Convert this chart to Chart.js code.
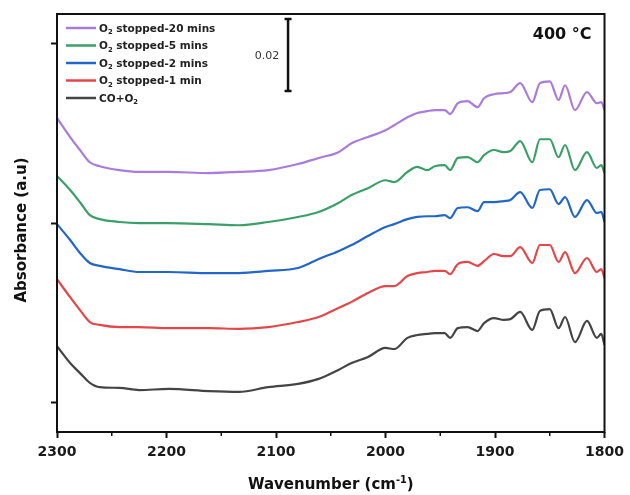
<!DOCTYPE html>
<html>
<head>
<meta charset="utf-8">
<title>DRIFTS 400 °C</title>
<script src="https://cdn.jsdelivr.net/npm/chart.js@4.4.1/dist/chart.umd.min.js"></script>
<style>
  html, body { margin: 0; padding: 0; background: #fff; }
</style>
</head>
<body>
<canvas id="irChart" width="630" height="495"></canvas>
<script>
// ---------------- DATA ----------------
// wavenumber (cm-1), values in milli-a.u. (offset spectra)

const wavenumbers = [2300, 2288, 2279, 2270, 2261, 2243, 2225, 2198, 2161, 2134, 2107, 2080, 2061, 2043,
  2031, 2016, 2000, 1992, 1980, 1971, 1962, 1955, 1946, 1941, 1934, 1925, 1916, 1910, 1901, 1892, 1886,
  1877, 1866, 1859, 1850, 1842, 1836, 1827, 1816, 1807, 1803, 1800];

const coO2 = [15.8, 11.1, 8.3, 5.6, 4.4, 4.2, 3.6, 3.9, 3.3, 3.1, 4.4, 5.3, 6.7, 9.2, 11.1, 12.8, 15.3,
  15.0, 18.1, 18.9, 19.2, 19.4, 19.4, 18.1, 20.8, 21.1, 20.0, 22.2, 23.6, 23.1, 23.3, 25.3, 20.3, 25.6,
  26.1, 20.8, 23.9, 16.9, 22.8, 18.1, 19.2, 16.1];

const stopped1 = [34.4, 29.4, 25.8, 22.5, 21.7, 21.1, 21.1, 20.8, 20.8, 20.6, 21.1, 22.5, 23.9, 26.4,
  28.1, 30.6, 32.5, 32.5, 35.3, 36.1, 36.4, 36.7, 36.7, 35.8, 38.6, 39.2, 38.1, 39.4, 41.4, 40.8, 40.8,
  43.3, 38.9, 43.9, 43.9, 39.2, 41.9, 36.1, 40.3, 36.4, 37.2, 34.7];

const stopped2 = [49.7, 45.3, 41.7, 38.9, 38.1, 37.2, 36.4, 36.4, 36.1, 36.1, 36.7, 37.5, 40.0, 42.2,
  43.9, 46.4, 48.9, 49.7, 51.1, 51.7, 51.9, 51.9, 52.2, 51.4, 54.2, 54.4, 53.3, 55.8, 55.8, 56.1, 56.4,
  58.6, 54.2, 59.2, 59.4, 55.3, 57.2, 51.7, 56.4, 52.8, 53.1, 50.3];

const stopped5 = [63.1, 59.2, 55.8, 52.2, 51.1, 50.3, 50.0, 50.0, 49.7, 49.4, 50.3, 51.7, 53.1, 55.6,
  57.8, 59.7, 61.9, 61.4, 64.2, 65.6, 64.7, 65.8, 66.1, 64.7, 68.1, 68.3, 66.9, 68.9, 70.3, 69.7, 70.0,
  72.8, 66.9, 73.3, 73.3, 68.3, 71.7, 64.7, 69.7, 65.3, 66.1, 63.9];

const stopped20 = [79.2, 73.9, 70.3, 66.9, 65.8, 64.7, 64.2, 64.2, 63.9, 64.2, 64.7, 66.4, 68.1, 69.7,
  72.2, 73.9, 75.8, 77.2, 79.4, 80.6, 81.1, 81.4, 81.4, 80.3, 83.3, 83.9, 82.2, 84.7, 85.8, 86.1, 86.4,
  88.9, 83.6, 88.9, 89.4, 84.2, 88.3, 81.4, 86.4, 83.3, 83.6, 81.4];

// legend order = top to bottom
const seriesLabels = ["O_{2} stopped-20 mins", "O_{2} stopped-5 mins", "O_{2} stopped-2 mins",
  "O_{2} stopped-1 min", "CO+O_{2}"];
const seriesValues = [stopped20, stopped5, stopped2, stopped1, coO2];
const seriesColors = ["#a97cdc", "#3a9f68", "#2266c8", "#e4474a", "#444444"];

const xTicks = [2300, 2200, 2100, 2000, 1900, 1800];
const xMinorTicks = [2250, 2150, 2050, 1950, 1850];
const yTicks = [0, 0.05, 0.1];

const scaleBar = { at: 2089, from: 0.0867, size: 0.02, label: "0.02" };
const tempLabel = "400 °C";

const FONT = '"DejaVu Sans", "Liberation Sans", sans-serif';

// ---------------- HELPERS ----------------

// draws text with _{sub} and ^{sup} parts
function drawRich(ctx, text, x, y, size, weight, align) {
  let tokens = text.split(/([_^]\{[^}]*\})/).filter(t => t !== "");
  let parts = tokens.map(t => {
    if (t[0] === "_") return { s: t.slice(2, -1), k: 1 };
    if (t[0] === "^") return { s: t.slice(2, -1), k: -1 };
    return { s: t, k: 0 };
  });
  const fontFor = k => `${weight} ${k ? size * 0.65 : size}px ${FONT}`;
  let total = 0;
  parts.forEach(p => {
    ctx.font = fontFor(p.k);
    p.w = ctx.measureText(p.s).width;
    total += p.w;
  });
  let cx = align === "center" ? x - total / 2 : align === "right" ? x - total : x;
  ctx.textAlign = "left";
  ctx.textBaseline = "alphabetic";
  parts.forEach(p => {
    ctx.font = fontFor(p.k);
    let dy = p.k === 1 ? size * 0.25 : p.k === -1 ? -size * 0.42 : 0;
    ctx.fillText(p.s, cx, y + dy);
    cx += p.w;
  });
}

const decorPlugin = {
  id: "decor",
  afterDraw(chart) {
    const { ctx, chartArea: a } = chart;
    const xs = chart.scales.x, ys = chart.scales.y;
    ctx.save();

    // frame
    ctx.strokeStyle = "#111";
    ctx.lineWidth = 2;
    ctx.strokeRect(a.left, a.top, a.right - a.left, a.bottom - a.top);

    // minor ticks
    ctx.lineWidth = 1.5;
    xMinorTicks.forEach(w => {
      let px = xs.getPixelForValue(w);
      ctx.beginPath();
      ctx.moveTo(px, a.bottom);
      ctx.lineTo(px, a.bottom + 4);
      ctx.stroke();
    });

    // scale bar
    let bx = xs.getPixelForValue(scaleBar.at);
    let y0 = ys.getPixelForValue(scaleBar.from);
    let y1 = ys.getPixelForValue(scaleBar.from + scaleBar.size);
    ctx.lineWidth = 2.5;
    ctx.beginPath();
    ctx.moveTo(bx, y0); ctx.lineTo(bx, y1);
    ctx.moveTo(bx - 3.5, y0); ctx.lineTo(bx + 3.5, y0);
    ctx.moveTo(bx - 3.5, y1); ctx.lineTo(bx + 3.5, y1);
    ctx.stroke();
    ctx.fillStyle = "#333";
    drawRich(ctx, scaleBar.label, bx - 21, (y0 + y1) / 2 + 4, 11, "normal", "center");

    // legend
    seriesLabels.forEach((lab, i) => {
      let ry = 28 + i * 17.5;
      ctx.strokeStyle = seriesColors[i];
      ctx.lineWidth = 2.5;
      ctx.beginPath();
      ctx.moveTo(66, ry); ctx.lineTo(96, ry);
      ctx.stroke();
      ctx.fillStyle = "#222";
      drawRich(ctx, lab, 99, ry + 3.8, 10.5, "bold", "left");
    });

    // temperature
    ctx.fillStyle = "#111";
    drawRich(ctx, tempLabel, a.right - 13, 38.5, 16, "bold", "right");

    // axis titles
    drawRich(ctx, "Wavenumber (cm^{-1})", (a.left + a.right) / 2, 489, 15, "bold", "center");
    ctx.save();
    ctx.translate(26, 230);
    ctx.rotate(-Math.PI / 2);
    drawRich(ctx, "Absorbance (a.u)", 0, 0, 15, "bold", "center");
    ctx.restore();

    ctx.restore();
  }
};

// ---------------- CHART ----------------

let datasets = seriesValues.map((vals, i) => ({
  label: seriesLabels[i].replace(/_\{(.*?)\}/g, "$1"),
  data: wavenumbers.map((w, j) => ({ x: w, y: vals[j] / 1000 })),
  borderColor: seriesColors[i],
  borderWidth: 2.2,
  pointRadius: 0,
  fill: false,
  cubicInterpolationMode: "monotone"
}));

let ctx = document.getElementById("irChart").getContext("2d");

new Chart(ctx, {
  type: "line",
  data: { datasets: datasets },
  options: {
    responsive: false,
    animation: false,
    layout: { padding: { top: 14, right: 22, left: 0, bottom: 0 } },
    plugins: { legend: { display: false }, tooltip: { enabled: false } },
    scales: {
      x: {
        type: "linear",
        reverse: true,
        min: 1800,
        max: 2300,
        afterBuildTicks: s => { s.ticks = xTicks.map(v => ({ value: v })); },
        afterFit: s => { s.height = 63; },
        border: { display: false },
        grid: { drawOnChartArea: false, drawTicks: true, tickLength: 6, tickWidth: 2, color: "#111" },
        ticks: {
          autoSkip: false,
          maxRotation: 0,
          padding: 6,
          color: "#1a1a1a",
          font: { family: FONT, size: 14, weight: "bold" },
          callback: v => String(v)
        }
      },
      y: {
        type: "linear",
        min: -0.00806,
        max: 0.1081,
        afterBuildTicks: s => { s.ticks = yTicks.map(v => ({ value: v })); },
        afterFit: s => { s.width = 57; },
        border: { display: false },
        grid: { drawOnChartArea: false, drawTicks: true, tickLength: 6, tickWidth: 2, color: "#111" },
        ticks: { display: false }
      }
    }
  },
  plugins: [decorPlugin]
});
</script>
</body>
</html>
